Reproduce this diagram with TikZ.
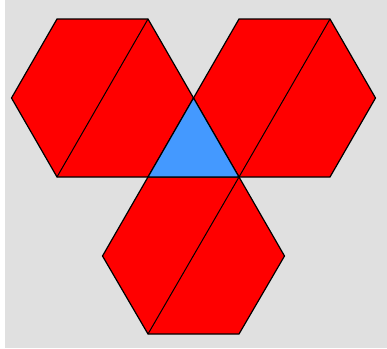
\documentclass[tikz,border=0pt]{standalone}
\definecolor{bggray}{RGB}{224,224,224}
\definecolor{hexred}{RGB}{255,0,0}
\definecolor{triblue}{RGB}{68,153,255}
\tikzset{
  hexface/.style={fill=hexred,draw=black,line width=1.2pt,line join=miter},
  triface/.style={fill=triblue,draw=black,line width=1.2pt},
  diag/.style={draw=black,line width=1pt}
}
\begin{document}
\begin{tikzpicture}[x=1pt,y=-1pt]
\useasboundingbox (0,0) rectangle (387,348);
\fill[white] (0,0) rectangle (387,348);
\fill[bggray] (5,0) rectangle (387,348);
% top-left hexagon
\coordinate (A1) at (57,19);  \coordinate (A2) at (148,19);
\coordinate (A3) at (193.5,98); \coordinate (A4) at (148,177);
\coordinate (A5) at (57,177); \coordinate (A6) at (11.5,98);
\draw[hexface] (A1)--(A2)--(A3)--(A4)--(A5)--(A6)--cycle;
\draw[diag] (A2)--(A5);
% top-right hexagon
\coordinate (B1) at (239,19);  \coordinate (B2) at (330,19);
\coordinate (B3) at (375.5,98); \coordinate (B4) at (330,177);
\coordinate (B5) at (239,177); \coordinate (B6) at (193.5,98);
\draw[hexface] (B1)--(B2)--(B3)--(B4)--(B5)--(B6)--cycle;
\draw[diag] (B2)--(B5);
% bottom hexagon
\coordinate (C1) at (148,177);  \coordinate (C2) at (239,177);
\coordinate (C3) at (284.5,256); \coordinate (C4) at (239,334);
\coordinate (C5) at (148,334); \coordinate (C6) at (102.5,256);
\draw[hexface] (C1)--(C2)--(C3)--(C4)--(C5)--(C6)--cycle;
\draw[diag] (C2)--(C5);
% triangle
\draw[triface] (A3)--(A4)--(B5)--cycle;
\end{tikzpicture}
\end{document}
